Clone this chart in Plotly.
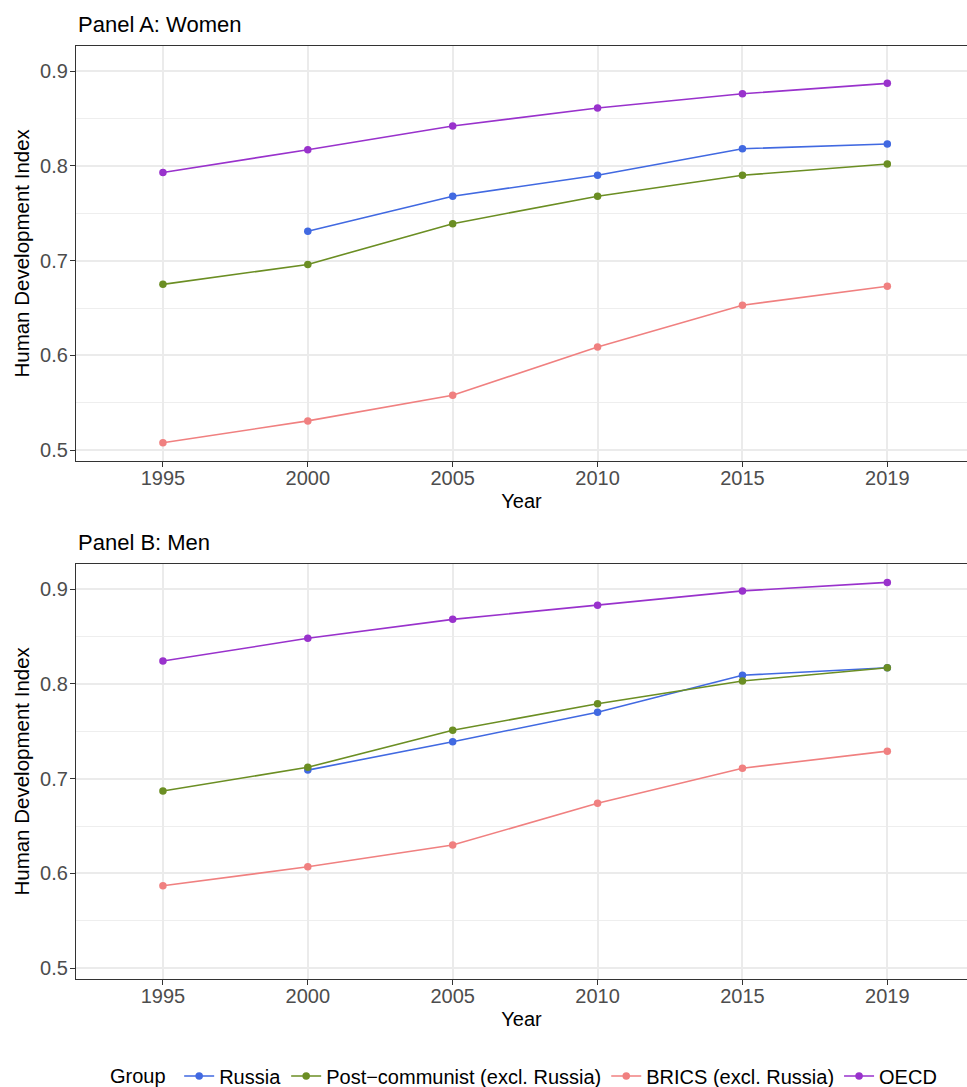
import plotly.graph_objects as go

years = ["1995", "2000", "2005", "2010", "2015", "2019"]
groups = ["Russia", "Post\u2212communist (excl. Russia)", "BRICS (excl. Russia)", "OECD"]
colors = ["#4169E1", "#6B8E23", "#F08080", "#9932CC"]

# Panel A: Women
women_russia = [None, 0.731, 0.768, 0.790, 0.818, 0.823]
women_postcom = [0.675, 0.696, 0.739, 0.768, 0.790, 0.802]
women_brics = [0.508, 0.531, 0.558, 0.609, 0.653, 0.673]
women_oecd = [0.793, 0.817, 0.842, 0.861, 0.876, 0.887]

# Panel B: Men
men_russia = [None, 0.709, 0.739, 0.770, 0.809, 0.817]
men_postcom = [0.687, 0.712, 0.751, 0.779, 0.803, 0.817]
men_brics = [0.587, 0.607, 0.630, 0.674, 0.711, 0.729]
men_oecd = [0.824, 0.848, 0.868, 0.883, 0.898, 0.907]

women = [women_russia, women_postcom, women_brics, women_oecd]
men = [men_russia, men_postcom, men_brics, men_oecd]

FONT = "Liberation Sans, Arial, sans-serif"
W, H = 967, 1087
L = 76
PW = W - L

fig = go.Figure()
for panel, data in ((1, women), (2, men)):
    for i, g in enumerate(groups):
        xs = [y for y, v in zip(years, data[i]) if v is not None]
        vs = [v for v in data[i] if v is not None]
        fig.add_trace(go.Scatter(x=xs, y=vs, mode="lines+markers", name=g,
                                 line=dict(color=colors[i], width=1.6),
                                 marker=dict(color=colors[i], size=7.5),
                                 xaxis="x" if panel == 1 else "x2",
                                 yaxis="y" if panel == 1 else "y2",
                                 legendgroup=g, showlegend=(panel == 1)))

yrange = [0.4887, 0.9267]
xrange = [-0.6, 5.55]

def xax(anchor):
    return dict(type="category", categoryorder="array", categoryarray=years,
                range=xrange, anchor=anchor, domain=[0, 1], automargin=False,
                showline=True, mirror=True, linecolor="#333333", linewidth=1.2,
                ticks="outside", ticklen=5, tickcolor="#333333", tickwidth=1.2,
                ticklabelstandoff=-6,
                showgrid=True, gridcolor="#EBEBEB", gridwidth=1.7,
                zeroline=False,
                tickfont=dict(family=FONT, size=20, color="#4D4D4D"),
                title=dict(text="Year", font=dict(family=FONT, size=20, color="black"), standoff=5))

def yax(anchor, dom):
    return dict(range=yrange, anchor=anchor, domain=dom, automargin=False,
                tickvals=[0.5, 0.6, 0.7, 0.8, 0.9],
                ticktext=["0.5", "0.6", "0.7", "0.8", "0.9"],
                showline=True, mirror=True, linecolor="#333333", linewidth=1.2,
                ticks="outside", ticklen=5, tickcolor="#333333", tickwidth=1.2,
                ticklabelstandoff=-2,
                showgrid=True, gridcolor="#EBEBEB", gridwidth=1.7,
                minor=dict(tickvals=[0.55, 0.65, 0.75, 0.85], showgrid=True,
                           gridcolor="#EEEEEE", gridwidth=1.0, ticks=""),
                zeroline=False,
                tickfont=dict(family=FONT, size=20, color="#4D4D4D"),
                title=dict(text="Human Development Index",
                           font=dict(family=FONT, size=20.5, color="black"), standoff=4))

domA = [1 - 461 / H, 1 - 45.7 / H]
domB = [1 - 979 / H, 1 - 563.7 / H]

fig.update_layout(
    width=W, height=H,
    margin=dict(l=L, r=0, t=0, b=0, autoexpand=False),
    paper_bgcolor="white", plot_bgcolor="white",
    font=dict(family=FONT, color="black"),
    xaxis=xax("y"), yaxis=yax("x", domA),
    xaxis2=xax("y2"), yaxis2=yax("x2", domB),
    legend=dict(orientation="h", x=(525 - L) / PW, xanchor="center",
                y=(H - 1076) / H, yanchor="middle",
                font=dict(family=FONT, size=20, color="black"),
                title=dict(text="Group ", font=dict(family=FONT, size=20, color="black"), side="left"),
                itemwidth=30, tracegroupgap=0, bgcolor="rgba(0,0,0,0)"),
    annotations=[
        dict(text="Panel A: Women", x=0, y=1 - 24 / H, xref="paper", yref="paper",
             xanchor="left", yanchor="middle", showarrow=False,
             font=dict(family=FONT, size=22, color="black")),
        dict(text="Panel B: Men", x=0, y=1 - 542 / H, xref="paper", yref="paper",
             xanchor="left", yanchor="middle", showarrow=False,
             font=dict(family=FONT, size=22, color="black")),
    ],
)

fig.write_html("out.html", config={"displayModeBar": False},
               post_script="document.body.style.margin='0';document.body.style.overflow='hidden';")
